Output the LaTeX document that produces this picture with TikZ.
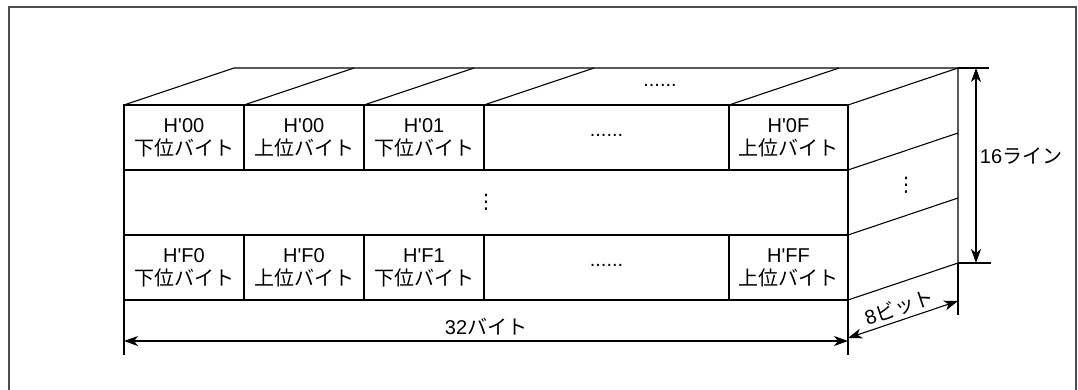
\documentclass[tikz,border=0pt]{standalone}
\usepackage{fontspec}
\setmainfont{Liberation Sans}[Ligatures=TeXOff]
\newfontfamily\jp{Noto Sans CJK JP}
\newfontfamily\dv{DejaVu Sans}
\usetikzlibrary{arrows.meta}

\begin{document}
\begin{tikzpicture}[x=1pt,y=-1pt,line width=1.1pt,>={Stealth[length=14pt,width=10pt,inset=4pt]},
  cell/.style={draw,minimum height=65pt,inner sep=0pt,outer sep=0pt,align=center,font=\fontsize{20}{23}\selectfont},
  lbl/.style={font=\fontsize{20}{23}\selectfont}]
\useasboundingbox (0,0) rectangle (1078,389);
\draw[gray!60!black] (9,395) -- (9,7) -- (1076,7) -- (1076,395);

% front face
\node[cell,minimum width=120pt] (a0) at (184,137.5) {H'00\\{\jp 下位バイト}};
\node[cell,minimum width=120pt] (a1) at (304,137.5) {H'00\\{\jp 上位バイト}};
\node[cell,minimum width=120pt] (a2) at (424,137.5) {H'01\\{\jp 下位バイト}};
\node[cell,minimum width=245pt] (a3) at (606.5,137.5) {\raisebox{4pt}{......}};
\node[cell,minimum width=119pt] (a4) at (788.5,137.5) {H'0F\\{\jp 上位バイト}};
\node[cell,minimum width=724pt] (mid) at (486,202.5) {\dv ⋮};
\node[cell,minimum width=120pt] (b0) at (184,267.5) {H'F0\\{\jp 下位バイト}};
\node[cell,minimum width=120pt] (b1) at (304,267.5) {H'F0\\{\jp 上位バイト}};
\node[cell,minimum width=120pt] (b2) at (424,267.5) {H'F1\\{\jp 下位バイト}};
\node[cell,minimum width=245pt] (b3) at (606.5,267.5) {\raisebox{4pt}{......}};
\node[cell,minimum width=119pt] (b4) at (788.5,267.5) {H'FF\\{\jp 上位バイト}};

% top and side
\coordinate (tb) at ([shift={(110,-37)}]a4.north east);
\coordinate (bb) at ([shift={(110,-37)}]b4.south east);
\foreach \n in {a0,a1,a2,a3,a4} \draw (\n.north west) -- ++(110,-37);
\draw ([shift={(110,-37)}]a0.north west) -- (tb) -- (bb) -- (b4.south east);
\draw (a4.north east) -- (tb);
\draw (a4.south east) -- ++(110,-37);
\draw (b4.north east) -- ++(110,-37);
\node[lbl] (tdots) at (660,85) {......};
\node[lbl] (sdots) at (906,185) {\dv ⋮};

% dimensions
\draw (tb) -- ++(31,0);
\draw (bb) -- ++(33,0);
\draw[<->] ([xshift=18pt]tb) -- node[pos=0.45,right=0pt,lbl] {16{\jp ライン}} ([xshift=18pt]bb);
\draw (b0.south west) -- ++(0,55);
\draw (b4.south east) -- ++(0,55);
\draw (bb) -- ++(0,52);
\draw[<->] ([yshift=-41pt]b0.south west) -- node[midway,above=2pt,lbl] {32{\jp バイト}} ([yshift=-41pt]b4.south east);
\draw[<->] ([yshift=-38pt]b4.south east) -- node[midway,above=0pt,sloped,lbl] {8{\jp ビット}} ([yshift=-38pt]bb);
\end{tikzpicture}
\end{document}
